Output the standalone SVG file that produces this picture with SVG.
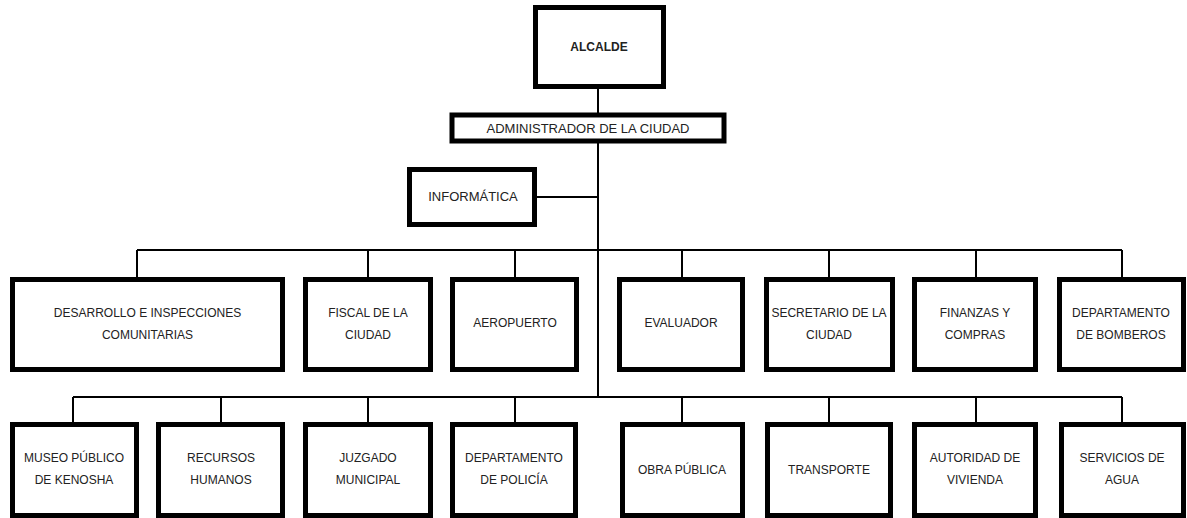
<svg xmlns="http://www.w3.org/2000/svg" width="1187" height="518" viewBox="0 0 1187 518">
<style>
.b{fill:#fff;stroke:#000;stroke-width:5}
.t{font-family:"Liberation Sans",Arial,sans-serif;font-size:12px;fill:#222;text-anchor:middle;dominant-baseline:central}
.bold{font-weight:bold}
.lg{font-size:13px}
.c{stroke:#000;stroke-width:2;fill:none}
</style>
<rect width="1187" height="518" fill="#fff"/>
<g id="connectors">
<path class="c" d="M598 89V397M537 197H598M137 250H1122M137 250V277M368 250V277M515 250V277M682 250V277M829 250V277M976 250V277M1122 250V277M73 397H1122M73 397V422M221 397V422M368 397V422M515 397V422M682 397V422M829 397V422M976 397V422M1122 397V422"/>
</g>
<g id="alcalde"><rect class="b" x="535.5" y="7.5" width="128" height="79"/><text class="t bold" x="599" y="47">ALCALDE</text></g>
<g id="administrador"><rect class="b" x="452" y="115" width="272" height="26" stroke-width="4"/><text class="t lg" x="588" y="128">ADMINISTRADOR DE LA CIUDAD</text></g>
<g id="informatica"><rect class="b" x="409.5" y="169.5" width="125" height="55"/><text class="t lg" x="473" y="196">INFORMÁTICA</text></g>

<g id="desarrollo"><rect class="b" x="12.5" y="279.5" width="270" height="90"/><text class="t" x="147.5" y="313">DESARROLLO E INSPECCIONES</text><text class="t" x="147.5" y="335">COMUNITARIAS</text></g>
<g id="fiscal"><rect class="b" x="305.5" y="279.5" width="125" height="90"/><text class="t" x="368" y="313">FISCAL DE LA</text><text class="t" x="368" y="335">CIUDAD</text></g>
<g id="aeropuerto"><rect class="b" x="452.5" y="279.5" width="124" height="90"/><text class="t" x="515" y="323">AEROPUERTO</text></g>
<g id="evaluador"><rect class="b" x="619.5" y="279.5" width="123" height="90"/><text class="t" x="681" y="323">EVALUADOR</text></g>
<g id="secretario"><rect class="b" x="766.5" y="279.5" width="126" height="90"/><text class="t" x="829" y="313">SECRETARIO DE LA</text><text class="t" x="829" y="335">CIUDAD</text></g>
<g id="finanzas"><rect class="b" x="914.5" y="279.5" width="121" height="90"/><text class="t" x="975" y="313">FINANZAS Y</text><text class="t" x="975" y="335">COMPRAS</text></g>
<g id="bomberos"><rect class="b" x="1059.5" y="279.5" width="124" height="90"/><text class="t" x="1121" y="313">DEPARTAMENTO</text><text class="t" x="1121" y="335">DE BOMBEROS</text></g>

<g id="museo"><rect class="b" x="12.5" y="424.5" width="124" height="91"/><text class="t" x="74" y="458">MUSEO PÚBLICO</text><text class="t" x="74" y="480">DE KENOSHA</text></g>
<g id="recursos"><rect class="b" x="158.5" y="424.5" width="124" height="91"/><text class="t" x="221" y="458">RECURSOS</text><text class="t" x="221" y="480">HUMANOS</text></g>
<g id="juzgado"><rect class="b" x="305.5" y="424.5" width="125" height="91"/><text class="t" x="368" y="458">JUZGADO</text><text class="t" x="368" y="480">MUNICIPAL</text></g>
<g id="policia"><rect class="b" x="452.5" y="424.5" width="123" height="91"/><text class="t" x="514" y="458">DEPARTAMENTO</text><text class="t" x="514" y="480">DE POLICÍA</text></g>
<g id="obra"><rect class="b" x="622.5" y="424.5" width="120" height="91"/><text class="t" x="682" y="470">OBRA PÚBLICA</text></g>
<g id="transporte"><rect class="b" x="767.5" y="424.5" width="123" height="91"/><text class="t" x="829" y="470">TRANSPORTE</text></g>
<g id="autoridad"><rect class="b" x="914.5" y="424.5" width="121" height="91"/><text class="t" x="975" y="458">AUTORIDAD DE</text><text class="t" x="975" y="480">VIVIENDA</text></g>
<g id="servicios"><rect class="b" x="1061.5" y="424.5" width="122" height="91"/><text class="t" x="1122" y="458">SERVICIOS DE</text><text class="t" x="1122" y="480">AGUA</text></g>
</svg>
